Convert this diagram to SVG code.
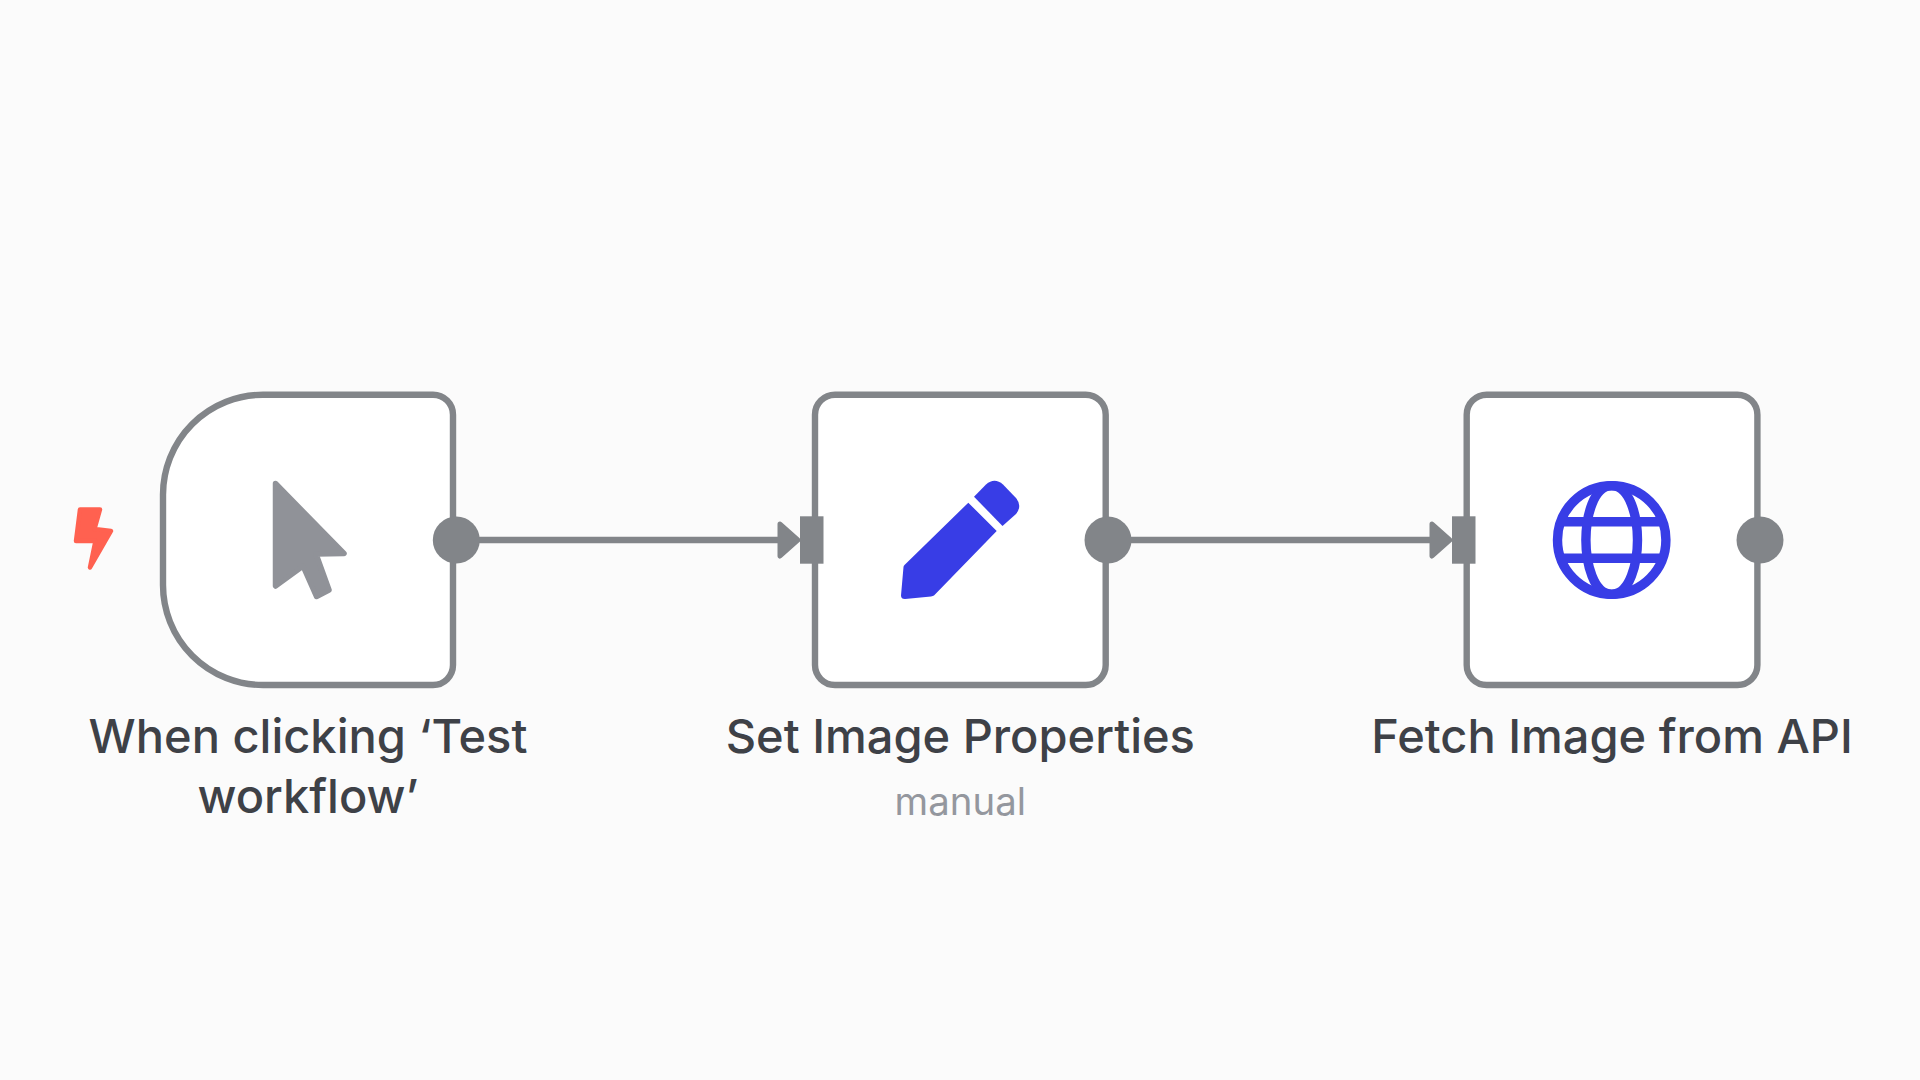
<svg xmlns="http://www.w3.org/2000/svg" width="1920" height="1080" viewBox="0 0 1920 1080">
<style>
.box{fill:#fff;stroke:#828589;stroke-width:6.4}
.port{fill:#828589}
.edge{stroke:#828589;stroke-width:6.4;fill:none}
.arrow{fill:#828589;stroke:#828589;stroke-width:5;stroke-linejoin:round}
.label{font-family:Inter,"Liberation Sans",sans-serif;font-size:47px;font-weight:450;fill:#3e4147;text-anchor:middle}
.sub{font-family:Inter,"Liberation Sans",sans-serif;font-size:38.4px;fill:#94979e;text-anchor:middle}
.blue{fill:#383de6}
.globe{fill:none;stroke:#383de6;stroke-width:9.4}
</style>
<rect width="1920" height="1080" fill="#fbfbfb"/>
<g id="connectors">
<line class="edge" x1="470" y1="540" x2="782" y2="540"/>
<polygon class="arrow" points="780,524 798,540 780,556"/>
<line class="edge" x1="1122" y1="540" x2="1434" y2="540"/>
<polygon class="arrow" points="1432,524 1450,540 1432,556"/>
</g>
<g id="node-trigger">
<path class="box" d="M263 394.7H433a20 20 0 0 1 20 20V665a20 20 0 0 1-20 20H263a100 100 0 0 1-100-100V494.7a100 100 0 0 1 100-100Z"/>
<polygon points="80,509.5 100,509.5 94.5,529 111,531 90,567.5 95.5,541 76,541" fill="#ff6150" stroke="#ff6150" stroke-width="4.5" stroke-linejoin="round"/>
<polygon points="275.5,483.5 344,553.5 316,554 329,590 316.5,596.5 303,566 275.5,586" fill="#909298" stroke="#909298" stroke-width="5.5" stroke-linejoin="round"/>
<circle class="port" cx="456.3" cy="540" r="23.5"/>
<text class="label" x="308" y="752.8">When clicking ‘Test</text>
<text class="label" x="308" y="813.4">workflow’</text>
</g>
<g id="node-set">
<rect class="box" x="815" y="394.7" width="290.7" height="290.3" rx="20"/>
<path class="blue" d="M968.3 502.7L996.7 531L934 595.5Q933 596 931 596.5L905 599Q901 599 901 595.5L903.5 567Q903.5 566 904.5 565Z"/>
<path class="blue" d="M974 496.7L986 484.5Q994.5 477 1003 484.5L1016 498Q1022.5 506 1016 514L1002.5 526Z"/>
<rect class="port" x="800" y="516.3" width="23.5" height="47.4"/>
<circle class="port" cx="1108" cy="540" r="23.5"/>
<text class="label" x="960.3" y="752.8">Set Image Properties</text>
<text class="sub" x="960.3" y="815.4">manual</text>
</g>
<g id="node-fetch">
<rect class="box" x="1466.7" y="394.7" width="290.7" height="290.3" rx="20"/>
<circle class="globe" cx="1611.7" cy="540" r="54.2"/>
<path class="globe" d="M1611.7 485.6C1630 485.6 1637.5 517 1637.5 540S1630 594.4 1611.7 594.4S1585.9 563 1585.9 540S1593.4 485.6 1611.7 485.6Z"/>
<line class="globe" x1="1561" y1="521.7" x2="1662" y2="521.7"/>
<line class="globe" x1="1561" y1="558.3" x2="1662" y2="558.3"/>
<rect class="port" x="1452" y="516.3" width="23.5" height="47.4"/>
<circle class="port" cx="1760" cy="540" r="23.5"/>
<text class="label" x="1612" y="752.8">Fetch Image from API</text>
</g>
</svg>
